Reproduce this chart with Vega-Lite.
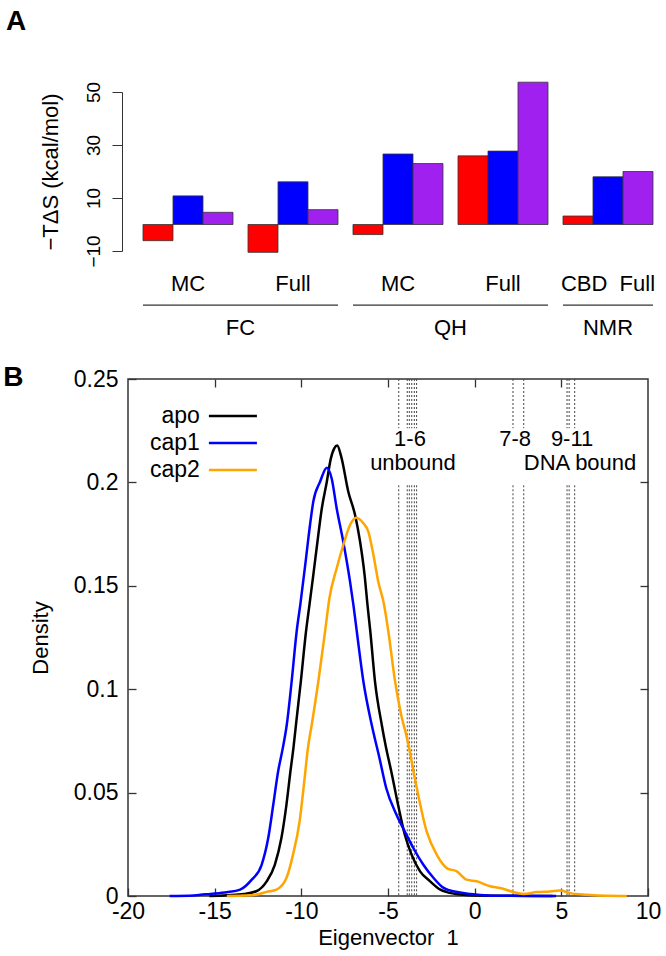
{
  "$schema": "https://vega.github.io/schema/vega-lite/v6.json",
  "background": "white",
  "padding": {"left": 2, "top": 8, "right": 5, "bottom": 4},
  "spacing": 24,
  "config": {
    "font": "Liberation Sans",
    "view": {"stroke": null},
    "axis": {"labelFont": "Liberation Sans", "titleFont": "Liberation Sans", "labelColor": "#000", "titleColor": "#000", "titleFontWeight": "normal", "grid": false},
    "title": {"font": "Liberation Sans", "color": "#000"},
    "legend": {"labelFont": "Liberation Sans", "labelColor": "#000"}
  },
  "resolve": {"scale": {"color": "independent"}, "legend": {"color": "independent"}},
  "datasets": {
    "bars": [
      {"grp": "FC|MC", "series": "S1", "value": -6.1},
      {"grp": "FC|MC", "series": "S2", "value": 10.8},
      {"grp": "FC|MC", "series": "S3", "value": 4.6},
      {"grp": "FC|Full", "series": "S1", "value": -10.5},
      {"grp": "FC|Full", "series": "S2", "value": 16.1},
      {"grp": "FC|Full", "series": "S3", "value": 5.6},
      {"grp": "QH|MC", "series": "S1", "value": -3.8},
      {"grp": "QH|MC", "series": "S2", "value": 26.6},
      {"grp": "QH|MC", "series": "S3", "value": 23.0},
      {"grp": "QH|Full", "series": "S1", "value": 25.9},
      {"grp": "QH|Full", "series": "S2", "value": 27.7},
      {"grp": "QH|Full", "series": "S3", "value": 53.7},
      {"grp": "NMR|CBD\u00a0\u00a0Full", "series": "S1", "value": 3.2},
      {"grp": "NMR|CBD\u00a0\u00a0Full", "series": "S2", "value": 18.0},
      {"grp": "NMR|CBD\u00a0\u00a0Full", "series": "S3", "value": 20.0}
    ],
    "groups": [
      {"name": "FC", "from": "FC|MC", "to": "FC|Full"},
      {"name": "QH", "from": "QH|MC", "to": "QH|Full"},
      {"name": "NMR", "from": "NMR|CBD\u00a0\u00a0Full", "to": "NMR|CBD\u00a0\u00a0Full"}
    ],
    "curves": [
      {"series": "apo", "x": -15.3, "y": 0},
      {"series": "apo", "x": -14.3, "y": 0.0004},
      {"series": "apo", "x": -13.3, "y": 0.001},
      {"series": "apo", "x": -12.6, "y": 0.0023},
      {"series": "apo", "x": -12.0, "y": 0.0071},
      {"series": "apo", "x": -11.53, "y": 0.0151},
      {"series": "apo", "x": -11.15, "y": 0.028},
      {"series": "apo", "x": -10.86, "y": 0.0441},
      {"series": "apo", "x": -10.63, "y": 0.0602},
      {"series": "apo", "x": -10.45, "y": 0.072},
      {"series": "apo", "x": -10.31, "y": 0.0828},
      {"series": "apo", "x": -10.03, "y": 0.1037},
      {"series": "apo", "x": -9.73, "y": 0.1279},
      {"series": "apo", "x": -9.52, "y": 0.1415},
      {"series": "apo", "x": -9.31, "y": 0.1552},
      {"series": "apo", "x": -9.07, "y": 0.1713},
      {"series": "apo", "x": -8.82, "y": 0.1874},
      {"series": "apo", "x": -8.53, "y": 0.2003},
      {"series": "apo", "x": -8.3, "y": 0.2115},
      {"series": "apo", "x": -8.1, "y": 0.2165},
      {"series": "apo", "x": -7.93, "y": 0.2178},
      {"series": "apo", "x": -7.7, "y": 0.2125},
      {"series": "apo", "x": -7.29, "y": 0.1955},
      {"series": "apo", "x": -6.9, "y": 0.1842},
      {"series": "apo", "x": -6.61, "y": 0.1713},
      {"series": "apo", "x": -6.35, "y": 0.1552},
      {"series": "apo", "x": -6.18, "y": 0.1405},
      {"series": "apo", "x": -6.02, "y": 0.1279},
      {"series": "apo", "x": -5.75, "y": 0.1037},
      {"series": "apo", "x": -5.36, "y": 0.0828},
      {"series": "apo", "x": -5.12, "y": 0.072},
      {"series": "apo", "x": -4.81, "y": 0.0602},
      {"series": "apo", "x": -4.42, "y": 0.0441},
      {"series": "apo", "x": -4.03, "y": 0.0296},
      {"series": "apo", "x": -3.64, "y": 0.02},
      {"series": "apo", "x": -3.15, "y": 0.0119},
      {"series": "apo", "x": -2.57, "y": 0.0071},
      {"series": "apo", "x": -1.98, "y": 0.0031},
      {"series": "apo", "x": -1.6, "y": 0.0019},
      {"series": "apo", "x": -0.82, "y": 0.0007},
      {"series": "apo", "x": 0.16, "y": 0.0002},
      {"series": "apo", "x": 2.0, "y": 0.0001},
      {"series": "apo", "x": 4.5, "y": 0},
      {"series": "cap1", "x": -17.6, "y": 0},
      {"series": "cap1", "x": -16.2, "y": 0.0003},
      {"series": "cap1", "x": -15.25, "y": 0.001},
      {"series": "cap1", "x": -14.3, "y": 0.0018},
      {"series": "cap1", "x": -13.53, "y": 0.0031},
      {"series": "cap1", "x": -12.86, "y": 0.0079},
      {"series": "cap1", "x": -12.29, "y": 0.0151},
      {"series": "cap1", "x": -11.91, "y": 0.028},
      {"series": "cap1", "x": -11.62, "y": 0.0441},
      {"series": "cap1", "x": -11.34, "y": 0.0602},
      {"series": "cap1", "x": -11.07, "y": 0.0715},
      {"series": "cap1", "x": -10.84, "y": 0.0828},
      {"series": "cap1", "x": -10.56, "y": 0.1037},
      {"series": "cap1", "x": -10.27, "y": 0.1279},
      {"series": "cap1", "x": -10.05, "y": 0.1415},
      {"series": "cap1", "x": -9.73, "y": 0.1633},
      {"series": "cap1", "x": -9.5, "y": 0.1794},
      {"series": "cap1", "x": -9.31, "y": 0.1907},
      {"series": "cap1", "x": -8.92, "y": 0.2003},
      {"series": "cap1", "x": -8.53, "y": 0.2071},
      {"series": "cap1", "x": -8.25, "y": 0.2019},
      {"series": "cap1", "x": -7.96, "y": 0.1874},
      {"series": "cap1", "x": -7.58, "y": 0.1713},
      {"series": "cap1", "x": -7.19, "y": 0.152},
      {"series": "cap1", "x": -7.0, "y": 0.141},
      {"series": "cap1", "x": -6.8, "y": 0.1279},
      {"series": "cap1", "x": -6.42, "y": 0.1037},
      {"series": "cap1", "x": -5.94, "y": 0.0828},
      {"series": "cap1", "x": -5.5, "y": 0.067},
      {"series": "cap1", "x": -5.1, "y": 0.0521},
      {"series": "cap1", "x": -4.51, "y": 0.0393},
      {"series": "cap1", "x": -4.03, "y": 0.0312},
      {"series": "cap1", "x": -3.54, "y": 0.0232},
      {"series": "cap1", "x": -2.96, "y": 0.0151},
      {"series": "cap1", "x": -2.37, "y": 0.0087},
      {"series": "cap1", "x": -1.79, "y": 0.0039},
      {"series": "cap1", "x": -1.01, "y": 0.0019},
      {"series": "cap1", "x": -0.23, "y": 0.001},
      {"series": "cap1", "x": 0.74, "y": 0.0003},
      {"series": "cap1", "x": 2.0, "y": 0.0001},
      {"series": "cap1", "x": 4.7, "y": 0},
      {"series": "cap2", "x": -14.3, "y": 0},
      {"series": "cap2", "x": -13.34, "y": 0.0002},
      {"series": "cap2", "x": -12.58, "y": 0.0007},
      {"series": "cap2", "x": -12.0, "y": 0.002},
      {"series": "cap2", "x": -11.43, "y": 0.0031},
      {"series": "cap2", "x": -10.86, "y": 0.0087},
      {"series": "cap2", "x": -10.48, "y": 0.02},
      {"series": "cap2", "x": -10.1, "y": 0.0361},
      {"series": "cap2", "x": -9.81, "y": 0.057},
      {"series": "cap2", "x": -9.62, "y": 0.0715},
      {"series": "cap2", "x": -9.4, "y": 0.0828},
      {"series": "cap2", "x": -9.02, "y": 0.1037},
      {"series": "cap2", "x": -8.63, "y": 0.1279},
      {"series": "cap2", "x": -8.38, "y": 0.144},
      {"series": "cap2", "x": -7.96, "y": 0.1585},
      {"series": "cap2", "x": -7.58, "y": 0.1697},
      {"series": "cap2", "x": -7.19, "y": 0.1794},
      {"series": "cap2", "x": -6.84, "y": 0.1829},
      {"series": "cap2", "x": -6.42, "y": 0.1802},
      {"series": "cap2", "x": -6.13, "y": 0.1761},
      {"series": "cap2", "x": -5.84, "y": 0.1649},
      {"series": "cap2", "x": -5.56, "y": 0.152},
      {"series": "cap2", "x": -5.23, "y": 0.141},
      {"series": "cap2", "x": -4.98, "y": 0.1279},
      {"series": "cap2", "x": -4.59, "y": 0.1037},
      {"series": "cap2", "x": -4.25, "y": 0.088},
      {"series": "cap2", "x": -3.9, "y": 0.0763},
      {"series": "cap2", "x": -3.34, "y": 0.0522},
      {"series": "cap2", "x": -2.77, "y": 0.0312},
      {"series": "cap2", "x": -2.19, "y": 0.02},
      {"series": "cap2", "x": -1.61, "y": 0.0135},
      {"series": "cap2", "x": -1.03, "y": 0.0119},
      {"series": "cap2", "x": -0.46, "y": 0.0079},
      {"series": "cap2", "x": 0.12, "y": 0.0071},
      {"series": "cap2", "x": 0.89, "y": 0.0047},
      {"series": "cap2", "x": 1.47, "y": 0.0039},
      {"series": "cap2", "x": 2.23, "y": 0.0019},
      {"series": "cap2", "x": 2.81, "y": 0.001},
      {"series": "cap2", "x": 3.58, "y": 0.0019},
      {"series": "cap2", "x": 4.35, "y": 0.0022},
      {"series": "cap2", "x": 4.93, "y": 0.0026},
      {"series": "cap2", "x": 5.5, "y": 0.0014},
      {"series": "cap2", "x": 6.47, "y": 0.0006},
      {"series": "cap2", "x": 7.62, "y": 0.0001},
      {"series": "cap2", "x": 8.78, "y": 0}
    ],
    "structures": [
      {"x": -4.38}, {"x": -3.89}, {"x": -3.77}, {"x": -3.63}, {"x": -3.48}, {"x": -3.35},
      {"x": 2.21}, {"x": 2.83}, {"x": 5.33}, {"x": 5.45}, {"x": 5.77}
    ],
    "notes": [
      {"text": "1-6", "x": -3.73, "y": 0.2208},
      {"text": "unbound", "x": -3.56, "y": 0.2092},
      {"text": "7-8", "x": 2.33, "y": 0.2208},
      {"text": "9-11", "x": 5.62, "y": 0.2208},
      {"text": "DNA bound", "x": 6.08, "y": 0.2092}
    ]
  },
  "vconcat": [
    {
      "title": {"text": "A", "anchor": "start", "frame": "bounds", "fontSize": 28, "fontWeight": "bold", "offset": 45, "dx": -33},
      "width": 528,
      "height": 159,
      "layer": [
        {
          "data": {"name": "bars"},
          "mark": {"type": "bar", "stroke": "#333", "strokeWidth": 0.8},
          "encoding": {
            "x": {
              "field": "grp", "type": "nominal",
              "scale": {"domain": ["FC|MC", "FC|Full", "QH|MC", "QH|Full", "NMR|CBD\u00a0\u00a0Full"], "paddingInner": 0.142857, "paddingOuter": 0.0857, "align": 0.833},
              "axis": {"title": null, "domain": false, "ticks": false, "tickSize": 0, "labelAngle": 0, "labelFontSize": 22, "labelPadding": 22, "labelExpr": "split(datum.label, '|')[1]"}
            },
            "xOffset": {"field": "series", "type": "nominal", "scale": {"domain": ["S1", "S2", "S3"]}},
            "y": {
              "field": "value", "type": "quantitative",
              "scale": {"domain": [-10, 50], "nice": false, "zero": false},
              "axis": {"offset": 6, "title": "−TΔS (kcal/mol)", "titleFontSize": 22, "titlePadding": 22, "values": [-10, 0, 10, 20, 30, 40, 50], "labelExpr": "(datum.value + 10) % 20 == 0 ? datum.label : ''", "labelAngle": -90, "labelAlign": "center", "labelBaseline": "bottom", "labelFontSize": 19, "labelPadding": 9, "tickSize": 10, "tickColor": "#333", "domainColor": "#333", "labelFlush": false, "labelOverlap": false}
            },
            "color": {"field": "series", "type": "nominal", "scale": {"domain": ["S1", "S2", "S3"], "range": ["#FF0000", "#0000FF", "#A020F0"]}, "legend": null}
          }
        },
        {
          "mark": {"type": "rule", "color": "#333", "strokeWidth": 1.2},
          "encoding": {"y": {"datum": 0}}
        },
        {
          "data": {"name": "groups"},
          "mark": {"type": "rule", "color": "#333", "strokeWidth": 1.2},
          "encoding": {
            "x": {"field": "from", "type": "nominal", "bandPosition": 0},
            "x2": {"field": "to", "bandPosition": 1},
            "y": {"datum": -30.4}
          }
        },
        {
          "data": {"name": "groups"},
          "transform": [{"filter": "datum.name != 'NMR'"}],
          "mark": {"type": "text", "fontSize": 22, "dx": -7.5, "baseline": "middle"},
          "encoding": {
            "x": {"field": "to", "type": "nominal", "bandPosition": 0},
            "y": {"datum": -38.9},
            "text": {"field": "name"}
          }
        },
        {
          "data": {"name": "groups"},
          "transform": [{"filter": "datum.name == 'NMR'"}],
          "mark": {"type": "text", "fontSize": 22, "baseline": "middle"},
          "encoding": {
            "x": {"field": "to", "type": "nominal", "bandPosition": 0.5},
            "y": {"datum": -38.9},
            "text": {"field": "name"}
          }
        }
      ]
    },
    {
      "title": {"text": "B", "anchor": "start", "frame": "bounds", "fontSize": 28, "fontWeight": "bold", "offset": 0, "dy": 24, "dx": -26},
      "width": 520,
      "height": 517,
      "view": {"stroke": "#333", "strokeWidth": 1.5},
      "layer": [
        {
          "data": {"name": "structures"},
          "mark": {"type": "rule", "color": "#444", "strokeWidth": 1, "strokeDash": [2, 2]},
          "encoding": {
            "x": {"field": "x", "type": "quantitative", "axis": null},
            "y": {"datum": 0.25, "type": "quantitative", "axis": null},
            "y2": {"datum": 0.2262}
          }
        },
        {
          "data": {"name": "structures"},
          "mark": {"type": "rule", "color": "#444", "strokeWidth": 1, "strokeDash": [2, 2]},
          "encoding": {
            "x": {"field": "x", "type": "quantitative", "axis": null},
            "y": {"datum": 0.1986, "type": "quantitative", "axis": null},
            "y2": {"datum": 0}
          }
        },
        {
          "data": {"name": "curves"},
          "mark": {"type": "line", "strokeWidth": 2.5, "interpolate": "monotone"},
          "encoding": {
            "x": {
              "field": "x", "type": "quantitative",
              "scale": {"domain": [-20, 10], "nice": false, "zero": false},
              "axis": {"orient": "bottom", "title": "Eigenvector\u00a0\u00a01", "titleFontSize": 22, "titlePadding": 4, "values": [-20, -15, -10, -5, 0, 5, 10], "domain": false, "tickSize": -8, "tickWidth": 1.3, "tickColor": "#333", "labelFontSize": 23, "labelPadding": 12, "labelFlush": false, "labelOverlap": false, "labelExpr": "replace(datum.label, '−', '-')"}
            },
            "y": {
              "field": "y", "type": "quantitative",
              "scale": {"domain": [0, 0.25], "nice": false, "zero": false},
              "axis": {"orient": "left", "title": "Density", "titleFontSize": 22, "titlePadding": 21, "values": [0, 0.05, 0.1, 0.15, 0.2, 0.25], "format": "~g", "domain": false, "tickSize": -8, "tickWidth": 1.3, "tickColor": "#333", "labelFontSize": 23, "labelPadding": 18, "labelFlush": false, "labelOverlap": false}
            },
            "color": {
              "field": "series", "type": "nominal",
              "scale": {"domain": ["apo", "cap1", "cap2"], "range": ["#000000", "#0000FF", "#FFA500"]},
              "legend": {"orient": "none", "legendX": 93.4, "legendY": 25.5, "title": null, "symbolType": "M-2.5,0H2.5", "symbolSize": 369, "symbolStrokeWidth": 2.5, "labelFontSize": 23, "labelAlign": "right", "labelOffset": -44.6, "rowPadding": 3, "padding": 0}
            }
          }
        },
        {
          "data": {"name": "notes"},
          "mark": {"type": "text", "fontSize": 22, "baseline": "middle"},
          "encoding": {
            "x": {"field": "x", "type": "quantitative", "axis": {"orient": "top", "title": null, "labels": false, "domain": false, "values": [-15, -10, -5, 0, 5], "tickSize": -8, "tickWidth": 1.3, "tickColor": "#333"}},
            "y": {"field": "y", "type": "quantitative", "axis": {"orient": "right", "title": null, "labels": false, "domain": false, "values": [0.05, 0.1, 0.15, 0.2], "tickSize": -8, "tickWidth": 1.3, "tickColor": "#333"}},
            "text": {"field": "text"}
          }
        }
      ],
      "resolve": {"axis": {"x": "independent", "y": "independent"}}
    }
  ]
}
